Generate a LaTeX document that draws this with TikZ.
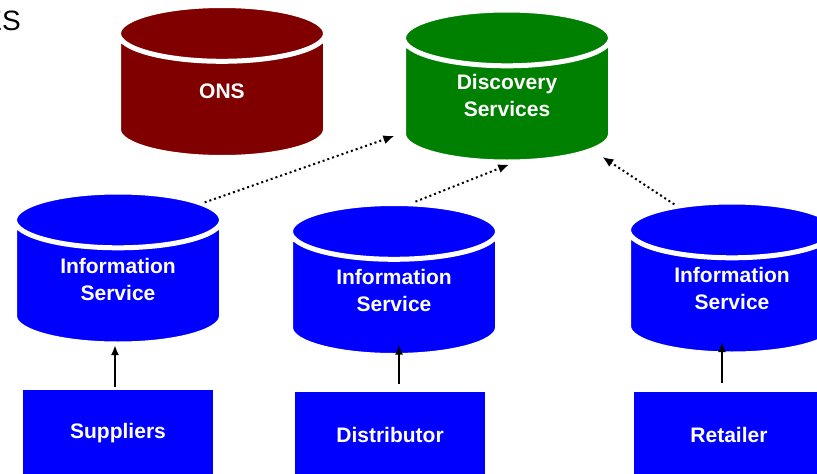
\documentclass[tikz,border=0pt]{standalone}
\usepackage{fontspec}
\setmainfont{Liberation Sans}
\usetikzlibrary{positioning}
\usetikzlibrary{shapes, arrows, arrows.meta}
\definecolor{onsred}{HTML}{800000}
\definecolor{dsgreen}{HTML}{008000}
\definecolor{isblue}{HTML}{0000FF}

\begin{document}
\begin{tikzpicture}[x=1pt, y=-1pt]
    \tikzstyle{store} = [cylinder, shape border rotate=90, aspect=0.45, draw=white,
    line width=5pt, minimum width=207pt, minimum height=152pt, text=white,
    text width=124pt, text depth=36pt, align=center, inner sep=0pt,
    font=\fontsize{21}{27}\selectfont\bfseries]
    \tikzstyle{block} = [rectangle, fill=isblue, minimum width=190pt, minimum height=86pt,
    text=white, font=\fontsize{21}{27}\selectfont\bfseries]
    \tikzstyle{line} = [draw, line width=2pt, -{Latex[length=10pt, width=8pt]}]
    \tikzstyle{feed} = [draw, line width=2pt, dash pattern=on 2pt off 3pt,
    -{Latex[length=11pt, width=9pt]}]
    \useasboundingbox (0,0) rectangle (817,474);
    \node [anchor=base east, inner sep=0pt, font=\fontsize{28}{28}\selectfont] (title) at (21,30) {ES};
    % top row
    \node [store, fill=onsred, text depth=12pt, anchor=shape center] (ons) at (222,81.5) {ONS};
    \node [store, fill=dsgreen, text depth=38pt, anchor=shape center] (disc) at (507,86) {Discovery\\Services};
    % information services
    \node [store, fill=isblue, text depth=34pt, anchor=shape center] (info1) at (118,268) {Information\\Service};
    \node [store, fill=isblue, anchor=shape center] (info2) at (394,279.5) {Information\\Service};
    \node [store, fill=isblue, anchor=shape center] (info3) at (732,278) {Information\\Service};
    % parties
    \node [block, anchor=north] (sup) at (118,390) {Suppliers};
    \node [block, anchor=north] (dist) at (390,392) {Distributor};
    \node [block, anchor=north] (ret) at (729,392) {Retailer};
    \path [line, shorten <=3pt, shorten >=-1.5pt] ([xshift=-3pt]sup.north) -- ([xshift=-3pt]sup.north |- info1.south);
    \path [line, shorten <=8pt, shorten >=-13.5pt] ([xshift=9pt]dist.north) -- ([xshift=9pt]dist.north |- info2.south);
    \path [line, shorten <=9pt, shorten >=-14.5pt] ([xshift=-7pt]ret.north) -- ([xshift=-7pt]ret.north |- info3.south);
    \path [feed, shorten >=7pt] (info1.43) -- (disc.197);
    \path [feed, shorten >=0pt] (info2.77) -- (disc.272);
    \path [feed, shorten >=10pt] (info3.123) -- (disc.330);
\end{tikzpicture}
\end{document}
